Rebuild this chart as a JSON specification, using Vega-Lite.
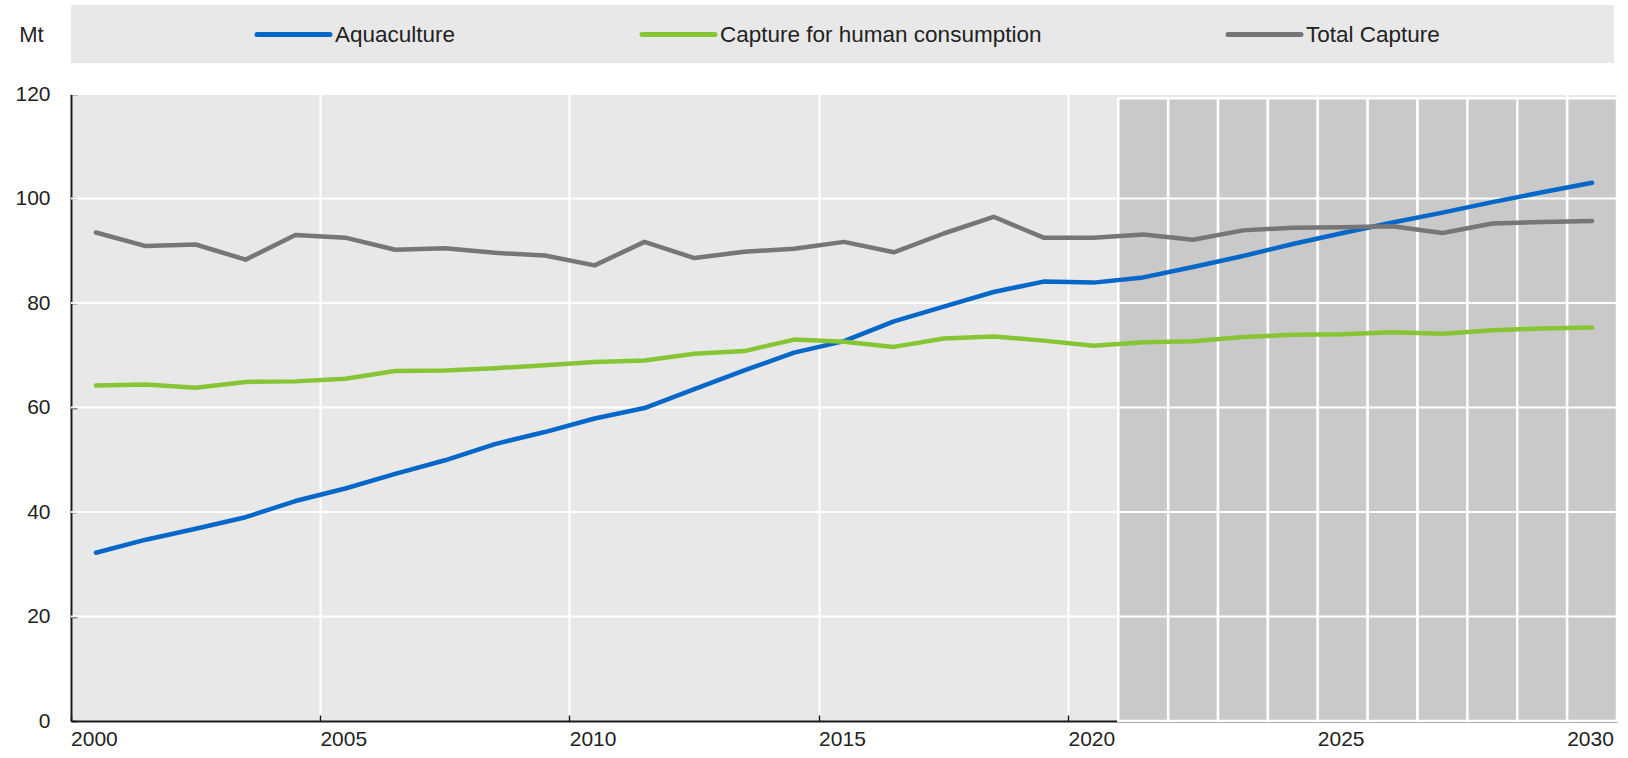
{
  "$schema": "https://vega.github.io/schema/vega-lite/v6.json",
  "autosize": {"type": "none"},
  "padding": {"left": 71, "top": 94, "right": 11, "bottom": 37},
  "width": 1546,
  "height": 627,
  "background": "#ffffff",
  "config": {
    "font": "Liberation Sans",
    "view": {"fill": "#e8e8e8", "stroke": null}
  },
  "datasets": {
    "series": [
      {"year": 2000, "series": "Aquaculture", "value": 32.2},
      {"year": 2001, "series": "Aquaculture", "value": 34.7},
      {"year": 2002, "series": "Aquaculture", "value": 36.8},
      {"year": 2003, "series": "Aquaculture", "value": 39.0},
      {"year": 2004, "series": "Aquaculture", "value": 42.1},
      {"year": 2005, "series": "Aquaculture", "value": 44.5},
      {"year": 2006, "series": "Aquaculture", "value": 47.3},
      {"year": 2007, "series": "Aquaculture", "value": 49.9},
      {"year": 2008, "series": "Aquaculture", "value": 53.0},
      {"year": 2009, "series": "Aquaculture", "value": 55.3},
      {"year": 2010, "series": "Aquaculture", "value": 57.9},
      {"year": 2011, "series": "Aquaculture", "value": 59.9},
      {"year": 2012, "series": "Aquaculture", "value": 63.5},
      {"year": 2013, "series": "Aquaculture", "value": 67.1},
      {"year": 2014, "series": "Aquaculture", "value": 70.5},
      {"year": 2015, "series": "Aquaculture", "value": 72.7},
      {"year": 2016, "series": "Aquaculture", "value": 76.5},
      {"year": 2017, "series": "Aquaculture", "value": 79.3},
      {"year": 2018, "series": "Aquaculture", "value": 82.1},
      {"year": 2019, "series": "Aquaculture", "value": 84.1},
      {"year": 2020, "series": "Aquaculture", "value": 83.9},
      {"year": 2021, "series": "Aquaculture", "value": 84.9},
      {"year": 2022, "series": "Aquaculture", "value": 86.9},
      {"year": 2023, "series": "Aquaculture", "value": 89.0},
      {"year": 2024, "series": "Aquaculture", "value": 91.3},
      {"year": 2025, "series": "Aquaculture", "value": 93.4},
      {"year": 2026, "series": "Aquaculture", "value": 95.4},
      {"year": 2027, "series": "Aquaculture", "value": 97.3},
      {"year": 2028, "series": "Aquaculture", "value": 99.3},
      {"year": 2029, "series": "Aquaculture", "value": 101.2},
      {"year": 2030, "series": "Aquaculture", "value": 103.0},
      {"year": 2000, "series": "Capture for human consumption", "value": 64.2},
      {"year": 2001, "series": "Capture for human consumption", "value": 64.4},
      {"year": 2002, "series": "Capture for human consumption", "value": 63.8},
      {"year": 2003, "series": "Capture for human consumption", "value": 64.9},
      {"year": 2004, "series": "Capture for human consumption", "value": 65.0},
      {"year": 2005, "series": "Capture for human consumption", "value": 65.5},
      {"year": 2006, "series": "Capture for human consumption", "value": 67.0},
      {"year": 2007, "series": "Capture for human consumption", "value": 67.1},
      {"year": 2008, "series": "Capture for human consumption", "value": 67.5},
      {"year": 2009, "series": "Capture for human consumption", "value": 68.1},
      {"year": 2010, "series": "Capture for human consumption", "value": 68.7},
      {"year": 2011, "series": "Capture for human consumption", "value": 69.0},
      {"year": 2012, "series": "Capture for human consumption", "value": 70.3},
      {"year": 2013, "series": "Capture for human consumption", "value": 70.8},
      {"year": 2014, "series": "Capture for human consumption", "value": 73.0},
      {"year": 2015, "series": "Capture for human consumption", "value": 72.6},
      {"year": 2016, "series": "Capture for human consumption", "value": 71.6},
      {"year": 2017, "series": "Capture for human consumption", "value": 73.2},
      {"year": 2018, "series": "Capture for human consumption", "value": 73.6},
      {"year": 2019, "series": "Capture for human consumption", "value": 72.8},
      {"year": 2020, "series": "Capture for human consumption", "value": 71.8},
      {"year": 2021, "series": "Capture for human consumption", "value": 72.5},
      {"year": 2022, "series": "Capture for human consumption", "value": 72.7},
      {"year": 2023, "series": "Capture for human consumption", "value": 73.5},
      {"year": 2024, "series": "Capture for human consumption", "value": 73.9},
      {"year": 2025, "series": "Capture for human consumption", "value": 74.0},
      {"year": 2026, "series": "Capture for human consumption", "value": 74.4},
      {"year": 2027, "series": "Capture for human consumption", "value": 74.1},
      {"year": 2028, "series": "Capture for human consumption", "value": 74.8},
      {"year": 2029, "series": "Capture for human consumption", "value": 75.1},
      {"year": 2030, "series": "Capture for human consumption", "value": 75.3},
      {"year": 2000, "series": "Total Capture", "value": 93.5},
      {"year": 2001, "series": "Total Capture", "value": 90.9},
      {"year": 2002, "series": "Total Capture", "value": 91.2},
      {"year": 2003, "series": "Total Capture", "value": 88.3},
      {"year": 2004, "series": "Total Capture", "value": 93.0},
      {"year": 2005, "series": "Total Capture", "value": 92.5},
      {"year": 2006, "series": "Total Capture", "value": 90.2},
      {"year": 2007, "series": "Total Capture", "value": 90.5},
      {"year": 2008, "series": "Total Capture", "value": 89.6},
      {"year": 2009, "series": "Total Capture", "value": 89.1},
      {"year": 2010, "series": "Total Capture", "value": 87.2},
      {"year": 2011, "series": "Total Capture", "value": 91.7},
      {"year": 2012, "series": "Total Capture", "value": 88.6},
      {"year": 2013, "series": "Total Capture", "value": 89.8},
      {"year": 2014, "series": "Total Capture", "value": 90.4},
      {"year": 2015, "series": "Total Capture", "value": 91.7},
      {"year": 2016, "series": "Total Capture", "value": 89.7},
      {"year": 2017, "series": "Total Capture", "value": 93.3},
      {"year": 2018, "series": "Total Capture", "value": 96.5},
      {"year": 2019, "series": "Total Capture", "value": 92.5},
      {"year": 2020, "series": "Total Capture", "value": 92.5},
      {"year": 2021, "series": "Total Capture", "value": 93.1},
      {"year": 2022, "series": "Total Capture", "value": 92.1},
      {"year": 2023, "series": "Total Capture", "value": 93.9},
      {"year": 2024, "series": "Total Capture", "value": 94.4},
      {"year": 2025, "series": "Total Capture", "value": 94.5},
      {"year": 2026, "series": "Total Capture", "value": 94.7},
      {"year": 2027, "series": "Total Capture", "value": 93.4},
      {"year": 2028, "series": "Total Capture", "value": 95.2},
      {"year": 2029, "series": "Total Capture", "value": 95.5},
      {"year": 2030, "series": "Total Capture", "value": 95.7}
    ],
    "projection": [
      {"year": 2021}, {"year": 2022}, {"year": 2023}, {"year": 2024}, {"year": 2025},
      {"year": 2026}, {"year": 2027}, {"year": 2028}, {"year": 2029}, {"year": 2030}
    ],
    "gridlines": [
      {"level": 20}, {"level": 40}, {"level": 60}, {"level": 80}, {"level": 100}, {"level": 120}
    ]
  },
  "layer": [
    {
      "data": {"name": "projection"},
      "mark": {"type": "bar", "color": "#c9c9c9", "stroke": "#ffffff", "strokeWidth": 2.5},
      "encoding": {
        "x": {
          "field": "year", "type": "ordinal",
          "scale": {"type": "band", "domain": [2000,2001,2002,2003,2004,2005,2006,2007,2008,2009,2010,2011,2012,2013,2014,2015,2016,2017,2018,2019,2020,2021,2022,2023,2024,2025,2026,2027,2028,2029,2030], "paddingInner": 0, "paddingOuter": 0},
          "axis": {
            "title": null,
            "values": [2000, 2005, 2010, 2015, 2020, 2025, 2030],
            "bandPosition": 0,
            "labelAngle": 0,
            "labelAlign": "left",
            "labelBaseline": "top",
            "labelOffset": -24.9,
            "labelFont": "Liberation Sans",
            "labelFontSize": 21,
            "labelColor": "#222222",
            "labelPadding": 13,
            "labelOverlap": false,
            "domainColor": "#1a1a1a",
            "domainWidth": 2,
            "tickColor": "#1a1a1a",
            "tickWidth": 1.5,
            "tickSize": -6,
            "grid": true,
            "gridColor": "#ffffff",
            "gridWidth": 2
          }
        },
        "y": {"datum": 0, "type": "quantitative", "scale": {"domain": [0, 120], "nice": false},
          "axis": {
            "title": "Mt",
            "titleAngle": 0,
            "titleFont": "Liberation Sans",
            "titleFontSize": 22,
            "titleFontWeight": "normal",
            "titleColor": "#222222",
            "titleX": -40,
            "titleY": -60,
            "titleAlign": "center",
            "titleBaseline": "middle",
            "values": [0, 20, 40, 60, 80, 100, 120],
            "labelFont": "Liberation Sans",
            "labelFontSize": 21,
            "labelColor": "#222222",
            "labelPadding": 27,
            "domainColor": "#1a1a1a",
            "domainWidth": 2,
            "tickColor": "#1a1a1a",
            "tickWidth": 1.5,
            "tickSize": -6,
            "grid": false
          }
        },
        "y2": {"datum": 119.2}
      }
    },
    {
      "data": {"name": "gridlines"},
      "mark": {"type": "rule", "color": "#ffffff", "strokeWidth": 2},
      "encoding": {
        "y": {"field": "level", "type": "quantitative"}
      }
    },
    {
      "data": {"name": "series"},
      "mark": {"type": "line", "strokeWidth": 4.5, "strokeCap": "round", "strokeJoin": "round"},
      "encoding": {
        "x": {"field": "year", "type": "ordinal", "bandPosition": 0.5},
        "y": {"field": "value", "type": "quantitative"},
        "color": {
          "field": "series", "type": "nominal",
          "scale": {
            "domain": ["Aquaculture", "Capture for human consumption", "Total Capture"],
            "range": ["#0567c8", "#86c634", "#767676"]
          },
          "legend": {
            "title": " ",
            "titleOrient": "right",
            "titlePadding": 157,
            "orient": "none",
            "legendX": 0,
            "legendY": -89,
            "direction": "horizontal",
            "fillColor": "#e8e8e8",
            "padding": 17,
            "symbolType": "M-3.65,0H3.65",
            "symbolSize": 400,
            "symbolStrokeWidth": 5,
            "symbolOffset": 193,
            "columnPadding": 17,
            "labelOffset": 29,
            "labelLimit": 0,
            "labelFont": "Liberation Sans",
            "labelFontSize": 22.5,
            "labelColor": "#222222",
            "encode": {
              "symbols": {"update": {"strokeCap": {"value": "round"}}}
            }
          }
        }
      }
    }
  ]
}
